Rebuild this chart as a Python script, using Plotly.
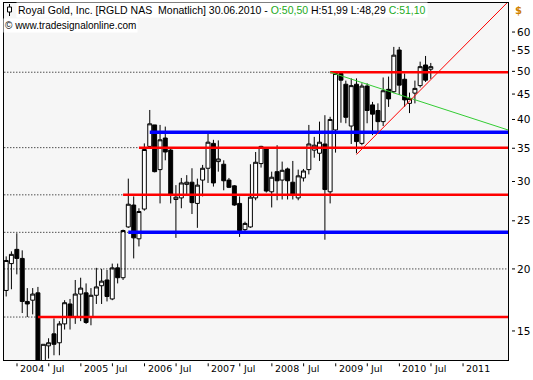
import numpy as np
import pandas as pd
import plotly.graph_objects as go

# ---------------- data ----------------
months = pd.period_range("2003-10", "2010-06", freq="M")
bar_dates = [p.to_timestamp(how="end").strftime("%Y-%m-%d") for p in months]

open_ = [18.1, 20.5, 21.9, 21.0, 17.2, 17.3, 17.9, 13.0, 14.0, 14.8, 14.2, 15.5,
         17.0, 16.0, 17.8, 17.9, 16.0, 17.7, 18.5, 19.0, 17.4, 20.1, 19.2, 24.3,
         26.9, 23.0, 26.4, 35.3, 39.0, 31.7, 36.7, 34.7, 27.6, 27.8, 29.6, 29.9,
         27.1, 30.2, 31.9, 35.8, 32.9, 32.5, 30.2, 29.4, 27.1, 24.0, 24.3, 27.8,
         32.6, 34.9, 28.6, 31.4, 30.2, 31.8, 29.9, 27.8, 30.5, 31.7, 34.7, 34.2,
         35.7, 28.6, 38.1, 49.5, 47.1, 38.8, 47.1, 35.8, 46.7, 42.8, 41.7, 39.6,
         46.0, 45.5, 55.2, 48.2, 43.1, 45.2, 46.8, 51.5, 50.50]
high = [21.2, 21.7, 23.6, 21.8, 18.3, 18.3, 18.4, 14.1, 14.5, 15.9, 15.7, 17.3,
        17.4, 19.0, 19.2, 18.7, 18.3, 20.1, 20.0, 19.9, 20.5, 20.5, 24.0, 30.4,
        28.0, 26.5, 35.8, 41.8, 39.0, 39.0, 38.7, 34.9, 29.5, 30.5, 30.9, 31.9,
        30.4, 32.4, 37.5, 36.4, 36.3, 33.1, 30.5, 29.5, 28.0, 24.9, 32.5, 34.4,
        35.4, 35.2, 31.4, 35.5, 32.9, 32.0, 33.0, 31.7, 31.8, 39.0, 36.9, 39.6,
        40.8, 40.5, 49.8, 49.8, 47.9, 48.4, 48.4, 47.3, 47.3, 43.4, 43.1, 48.6,
        48.8, 56.0, 56.0, 49.5, 45.3, 47.9, 52.3, 53.7, 51.99]
low = [17.6, 18.2, 19.5, 16.3, 16.0, 16.2, 12.6, 12.8, 13.2, 13.4, 13.4, 15.1,
       15.1, 15.5, 15.7, 15.5, 15.4, 17.0, 17.0, 17.2, 17.3, 18.7, 19.0, 24.2,
       21.0, 22.2, 26.2, 35.0, 31.3, 27.1, 33.1, 27.1, 23.1, 26.5, 28.2, 25.8,
       24.2, 28.0, 29.8, 29.3, 31.4, 28.8, 29.1, 26.8, 23.2, 23.6, 24.2, 27.5,
       32.0, 28.5, 26.6, 27.5, 27.6, 27.6, 27.6, 27.5, 30.0, 31.0, 33.5, 33.0,
       22.9, 27.1, 34.3, 39.4, 39.3, 35.7, 34.2, 35.5, 39.3, 37.2, 37.8, 38.8,
       42.4, 45.2, 44.8, 42.4, 41.2, 43.1, 46.4, 47.6, 48.29]
close = [20.8, 21.4, 21.0, 17.2, 17.0, 17.8, 13.0, 14.1, 14.2, 14.1, 15.5, 17.1,
         16.0, 17.8, 18.3, 15.6, 17.7, 18.4, 18.9, 17.6, 20.1, 19.2, 23.9, 27.0,
         23.1, 26.1, 34.8, 39.2, 31.4, 36.4, 34.4, 28.3, 27.9, 29.8, 29.9, 27.2,
         29.5, 31.9, 36.0, 29.8, 33.3, 30.1, 29.2, 26.9, 23.9, 24.7, 27.9, 32.8,
         35.3, 28.7, 30.6, 30.1, 31.6, 30.1, 28.3, 30.8, 31.5, 35.7, 35.5, 36.0,
         28.9, 40.0, 49.5, 48.0, 40.4, 46.8, 36.1, 46.7, 41.7, 41.0, 39.6, 45.7,
         44.0, 53.9, 46.9, 43.8, 44.1, 46.2, 51.1, 48.0, 51.10]

# horizontal support / resistance levels
level_prices = [16.0, 23.7, 28.2, 35.1, 37.7, 49.8]
level_starts = ["2004-04-30", "2005-09-30", "2005-08-31", "2005-11-30", "2006-01-31", "2008-11-30"]
level_kinds = ["red", "blue", "red", "red", "blue", "red"]
level_dotted_left = [True, True, True, True, False, True]
ref_level = 20

# trend lines
green_dates = ["2008-11-30", "2011-09-15 14:00"]
green_prices = [49.8, 38.1]
red_trend_dates = ["2009-04-30", "2011-09-15 14:00"]
red_trend_prices = [34.0, 69.0]

x_tick_dates = ["2004-01-01", "2004-07-01", "2005-01-01", "2005-07-01", "2006-01-01",
                "2006-07-01", "2007-01-01", "2007-07-01", "2008-01-01", "2008-07-01",
                "2009-01-01", "2009-07-01", "2010-01-01", "2010-07-01", "2011-01-01"]
x_tick_labels = ["2004", "Jul", "2005", "Jul", "2006", "Jul", "2007", "Jul",
                 "2008", "Jul", "2009", "Jul", "2010", "Jul", "2011"]
y_ticks = [15, 20, 25, 30, 35, 40, 45, 50, 55, 60]

x_start = "2003-10-18 12:00"
x_end = "2011-09-15 14:00"
y_min, y_max = 13.11, 68.65

# ---------------- figure ----------------
W, H = 533, 380
ML, MR, MT, MB = 4, 25, 3, 20
PW, PH = W - ML - MR, H - MT - MB

def px_x(px):
    return (px - ML) / PW

def px_y(py):
    return (H - MB - py) / PH

fig = go.Figure()

fig.add_trace(go.Candlestick(
    x=bar_dates, open=open_, high=high, low=low, close=close,
    increasing=dict(fillcolor="white", line=dict(color="black", width=1)),
    decreasing=dict(fillcolor="black", line=dict(color="black", width=1)),
    whiskerwidth=0, hoverinfo="skip", showlegend=False,
))

# dotted full-width reference line
fig.add_trace(go.Scatter(x=["2003-01-01", "2012-01-01"], y=[ref_level, ref_level],
                         mode="lines", line=dict(color="black", width=1, dash="1px,2px"),
                         hoverinfo="skip", showlegend=False))

colors = {"red": "#ff0000", "blue": "#0000ff"}
widths = {"red": 2.5, "blue": 3.5}
for p, s, k, d in zip(level_prices, level_starts, level_kinds, level_dotted_left):
    if d:
        fig.add_trace(go.Scatter(x=["2003-01-01", s], y=[p, p], mode="lines",
                                 line=dict(color="black", width=1, dash="1px,2px"),
                                 hoverinfo="skip", showlegend=False))
    fig.add_trace(go.Scatter(x=[s, "2012-01-01"], y=[p, p], mode="lines",
                             line=dict(color=colors[k], width=widths[k]),
                             hoverinfo="skip", showlegend=False))

fig.add_trace(go.Scatter(x=green_dates, y=green_prices, mode="lines",
                         line=dict(color="#33cc33", width=1), hoverinfo="skip", showlegend=False))
fig.add_trace(go.Scatter(x=red_trend_dates, y=red_trend_prices, mode="lines",
                         line=dict(color="#ff0000", width=1), hoverinfo="skip", showlegend=False))

shapes = []
annotations = []
# x tick marks and labels
for d, t in zip(x_tick_dates, x_tick_labels):
    shapes.append(dict(type="line", xref="x", yref="paper", x0=d, x1=d,
                       y0=px_y(363.3), y1=px_y(366.3), line=dict(color="black", width=1)))
    annotations.append(dict(x=d, xref="x", y=px_y(368.5), yref="paper", text=t,
                            showarrow=False, xanchor="left", yanchor="middle", xshift=1,
                            font=dict(family="DejaVu Sans", size=9.5, color="black")))
# y tick marks
for v in y_ticks:
    shapes.append(dict(type="line", xref="paper", yref="y", x0=px_x(512), x1=px_x(515),
                       y0=v, y1=v, line=dict(color="black", width=1)))

# title icon
shapes.append(dict(type="line", xref="paper", yref="paper", x0=px_x(9.5), x1=px_x(9.5),
                   y0=px_y(4), y1=px_y(16), line=dict(color="black", width=1)))
shapes.append(dict(type="rect", xref="paper", yref="paper", x0=px_x(7.5), x1=px_x(11.5),
                   y0=px_y(12), y1=px_y(7), line=dict(color="black", width=1), fillcolor="white"))

title_text = ("Royal Gold, Inc. [RGLD NAS  Monatlich] 30.06.2010 - "
              "<span style='color:#22aa22'>O:50,50</span> H:51,99 L:48,29 "
              "<span style='color:#22aa22'>C:51,10</span>")
annotations.append(dict(x=px_x(16), y=px_y(10), xref="paper", yref="paper", text=title_text,
                        showarrow=False, xanchor="left", yanchor="middle", bgcolor="white",
                        borderpad=1, font=dict(family="Liberation Sans", size=10.5, color="black")))
annotations.append(dict(x=px_x(3), y=px_y(26), xref="paper", yref="paper",
                        text="© www.tradesignalonline.com",
                        showarrow=False, xanchor="left", yanchor="middle", bgcolor="white",
                        borderpad=1, font=dict(family="Liberation Sans", size=10, color="black")))
annotations.append(dict(x=px_x(513), y=px_y(10), xref="paper", yref="paper", text="<b>$</b>",
                        showarrow=False, xanchor="left", yanchor="middle",
                        font=dict(family="DejaVu Sans", size=10, color="#d08000")))

fig.update_layout(
    width=W, height=H, margin=dict(l=ML, r=MR, t=MT, b=MB, pad=0),
    paper_bgcolor="white", plot_bgcolor="#f6f6f6", showlegend=False,
    boxgap=0.1, boxgroupgap=0.1,
    shapes=shapes, annotations=annotations,
    font=dict(family="Liberation Sans", size=11, color="black"),
)
fig.update_xaxes(type="date", range=[x_start, x_end], showticklabels=False, ticks="",
                 showgrid=False, zeroline=False, showline=True, mirror=True,
                 linecolor="black", linewidth=1, rangeslider=dict(visible=False))
fig.update_yaxes(type="log", range=[np.log10(y_min), np.log10(y_max)], side="right",
                 tickvals=y_ticks, ticktext=[str(v) for v in y_ticks], ticks="",
                 ticklabelstandoff=6,
                 tickfont=dict(family="DejaVu Sans", size=10.5, color="black"),
                 showgrid=False, zeroline=False, showline=True, mirror=True,
                 linecolor="black", linewidth=1)

fig.write_html("out.html")
